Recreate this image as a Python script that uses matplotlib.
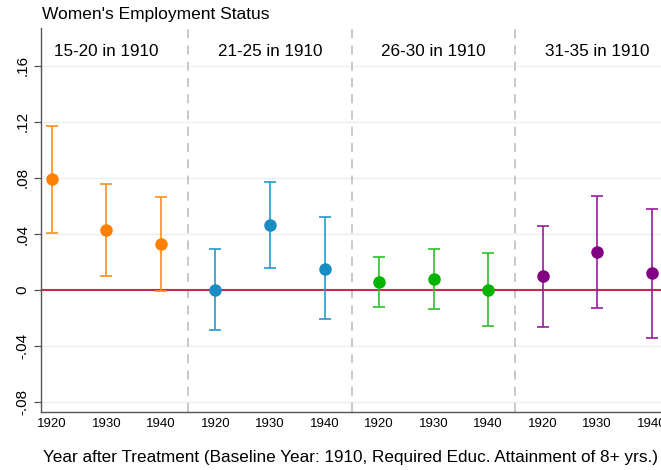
import matplotlib
matplotlib.use('Agg')
import matplotlib.pyplot as plt
import numpy as np

plt.rcParams['font.family'] = ['Liberation Sans', 'DejaVu Sans']

# 各组系数及置信区间
groups = ['15-20 in 1910', '21-25 in 1910', '26-30 in 1910', '31-35 in 1910']
years = ['1920', '1930', '1940']
coef = [[0.079, 0.043, 0.033],
        [0.000, 0.0465, 0.015],
        [0.0055, 0.008, 0.0002],
        [0.010, 0.027, 0.012]]
ci_lo = [[0.0407, 0.010, -0.0007],
         [-0.0286, 0.0157, -0.0207],
         [-0.0121, -0.0136, -0.026],
         [-0.0264, -0.0129, -0.0343]]
ci_hi = [[0.117, 0.0757, 0.0664],
         [0.0293, 0.077, 0.052],
         [0.0233, 0.0293, 0.0264],
         [0.046, 0.0671, 0.0579]]
colors = ['#FF8000', '#1A8CC4', '#00B400', '#820082']
bar_colors = ['#FF8C1A', '#2898CC', '#2CC02C', '#9A1A9A']
yticks = [-0.08, -0.04, 0, 0.04, 0.08, 0.12, 0.16]
ytick_labels = ['-.08', '-.04', '0', '.04', '.08', '.12', '.16']

fig = plt.figure(figsize=(6.61, 4.70), dpi=100)
ax = fig.add_axes([0.062, 0.1234, 0.938, 0.817])

for g in range(len(groups)):
    xs = np.arange(3) + 3 * g
    c = np.array(coef[g])
    lo = c - np.array(ci_lo[g])
    hi = np.array(ci_hi[g]) - c
    ax.errorbar(xs, c, yerr=[lo, hi], fmt='none', ecolor=bar_colors[g],
                elinewidth=1.2, capsize=4.3, capthick=1.2, zorder=3)
    ax.plot(xs, c, 'o', color=colors[g], markersize=8, zorder=4)
    ax.text(3 * g + 1, 0.170, groups[g], ha='center', va='center', fontsize=12.3)
    if g > 0:
        ax.axvline(3 * g - 0.5, color='#C4C4C4', ls=(0, (5, 4)), lw=1.3, zorder=1)

ax.axhline(0, color='#C8284E', lw=1.5, zorder=2)

ax.set_xlim(-0.2, 11.17)
ax.set_ylim(-0.0871, 0.187)
ax.set_yticks(yticks)
ax.set_yticklabels(ytick_labels, rotation=90, va='center', fontsize=11)
ax.set_xticks(np.arange(12))
ax.set_xticklabels(years * 4, fontsize=9.5)
ax.grid(axis='y', color='#E8F0F2', lw=1.0, zorder=0)
ax.set_axisbelow(True)
ax.tick_params(axis='both', direction='out', length=5, color='#555555', width=0.9)
ax.tick_params(axis='x', length=0, pad=4)

for s in ['top', 'right']:
    ax.spines[s].set_visible(False)
for s in ['left', 'bottom']:
    ax.spines[s].set_color('#555555')
    ax.spines[s].set_linewidth(1.0)

ax.set_xlabel('Year after Treatment (Baseline Year: 1910, Required Educ. Attainment of 8+ yrs.)',
              fontsize=12.3, labelpad=15)
fig.text(0.063, 0.97, "Women's Employment Status", ha='left', va='center', fontsize=12.5)

fig.savefig('out.png', dpi=100)
